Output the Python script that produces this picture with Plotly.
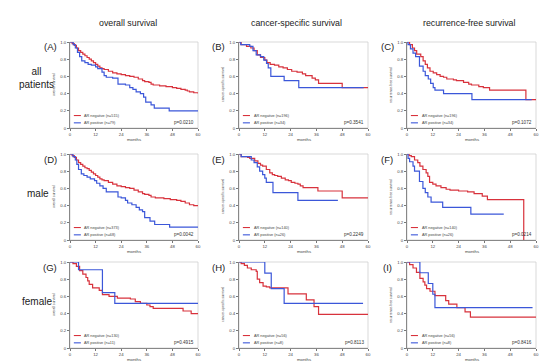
import plotly.graph_objects as go

W, H = 550, 361

# ---------------- data (months, survival) ----------------
A_neg_t = [0,1,2,3,4,5,6,7,8,9,10,11,12,13,14,15,16,18,20,22,24,26,28,30,32,34,35,37,38,39,42,45,48,50,52,54,55,56,58,60]
A_neg_s = [1.0,0.98,0.96,0.93,0.90,0.88,0.86,0.84,0.82,0.80,0.78,0.76,0.74,0.72,0.70,0.69,0.68,0.66,0.64,0.63,0.62,0.61,0.60,0.59,0.57,0.55,0.54,0.53,0.51,0.50,0.49,0.48,0.47,0.46,0.45,0.44,0.43,0.42,0.41,0.40]
A_pos_t = [0,1.5,2.5,3.5,4.5,5.5,7,8.5,10,12,13,15,16,17,20,22.5,26,28,29.5,31,33,34.5,35.5,38,39.5,46.5,60]
A_pos_s = [1.0,0.97,0.93,0.88,0.83,0.78,0.76,0.74,0.73,0.71,0.69,0.65,0.61,0.59,0.58,0.51,0.50,0.47,0.45,0.42,0.40,0.36,0.30,0.27,0.23,0.20,0.20]

B_neg_t = [0,1,3.5,5.5,7,8.5,10,12,13,14.5,16.5,18.5,20.5,22.5,24.5,27,29.5,31,34,35.5,37,48,60]
B_neg_s = [1.0,0.97,0.95,0.93,0.90,0.85,0.82,0.79,0.76,0.74,0.73,0.71,0.70,0.68,0.66,0.65,0.63,0.61,0.58,0.56,0.52,0.47,0.47]
B_pos_t = [0,0.8,5,6.5,8,10,11.5,12.8,13.6,14.8,21,27.8,58]
B_pos_s = [1.0,0.97,0.95,0.90,0.85,0.83,0.79,0.75,0.70,0.60,0.55,0.47,0.47]

C_neg_t = [0,1.2,2.5,3.5,4.5,6.4,7.5,8.5,9.5,10.7,12.2,13.8,15.4,17,18.5,21.6,23,26.3,28.7,30,33.4,35.5,38.4,55.3,60]
C_neg_s = [1.0,0.97,0.93,0.90,0.86,0.83,0.78,0.74,0.70,0.66,0.64,0.62,0.60,0.59,0.57,0.56,0.55,0.53,0.51,0.50,0.48,0.47,0.44,0.33,0.33]
C_pos_t = [0,0.5,1.6,2.8,4,5.8,7.5,8.5,9.9,11,12.2,13,17,30.2,58]
C_pos_s = [1.0,0.97,0.92,0.87,0.83,0.72,0.66,0.61,0.57,0.52,0.47,0.44,0.40,0.33,0.33]

D_neg_t = [0,1,2,3,4,5,6,7,8,9,10,11,12,13,14,15,16,18,20,22,24,26,28,30,32,34,35,37,38,40,44,47,50,52,54,56,58,60]
D_neg_s = [1.0,0.98,0.96,0.93,0.90,0.88,0.86,0.84,0.83,0.81,0.79,0.77,0.75,0.73,0.71,0.70,0.69,0.67,0.65,0.63,0.62,0.61,0.60,0.58,0.56,0.54,0.53,0.52,0.50,0.49,0.48,0.47,0.46,0.45,0.43,0.41,0.40,0.40]
D_pos_t = [0,1.4,2.5,3.2,4,5.3,6.5,8,9.5,11.5,12.5,14,15.5,17,22.5,24,26,27,29,31,32.5,34,35,37.5,39.7,46.7,60]
D_pos_s = [1.0,0.97,0.93,0.88,0.82,0.77,0.75,0.73,0.71,0.69,0.66,0.63,0.60,0.56,0.50,0.49,0.46,0.43,0.41,0.38,0.35,0.33,0.26,0.22,0.18,0.15,0.15]

E_neg_t = [0,1,4,5,7.3,8.8,10,11,12.7,14.3,15.5,16.6,18,19.7,21.5,23,24.3,26,27.4,28.5,29.8,36.7,48,60]
E_neg_s = [1.0,0.97,0.96,0.95,0.92,0.89,0.87,0.86,0.82,0.78,0.76,0.75,0.74,0.72,0.70,0.69,0.67,0.66,0.65,0.63,0.61,0.57,0.49,0.49]
E_pos_t = [0,1,5.7,7,8.5,9.6,11,12,12.7,15.8,27.4,46]
E_pos_s = [1.0,0.97,0.93,0.90,0.85,0.80,0.76,0.72,0.67,0.55,0.46,0.46]

F_neg_t = [0,1,2,3.5,5,6,7.4,8.9,9.7,10.5,12,13.5,15.8,18.2,20,24,28.2,31.2,35,37.4,54.3]
F_neg_s = [1.0,0.98,0.97,0.93,0.90,0.86,0.82,0.78,0.74,0.67,0.65,0.63,0.61,0.59,0.58,0.57,0.56,0.54,0.51,0.47,0.0]
F_pos_t = [0,0.5,1.2,2.8,3.5,5.8,7.4,8.5,9.7,11.2,16.6,29.7,45]
F_pos_s = [1.0,0.95,0.91,0.86,0.80,0.68,0.60,0.55,0.50,0.44,0.38,0.30,0.30]

G_neg_t = [0,1.4,3,4.5,6,7.5,8.3,9,10.6,13.7,15.2,18.3,22.2,28.3,30.6,33,36,37.5,39,53,56.8,60]
G_neg_s = [1.0,0.98,0.95,0.90,0.86,0.82,0.78,0.74,0.70,0.67,0.62,0.60,0.58,0.57,0.54,0.52,0.50,0.48,0.46,0.43,0.40,0.40]
G_pos_t = [0,4,15.2,21,60]
G_pos_s = [1.0,0.91,0.645,0.52,0.52]

H_neg_t = [0,1,2.5,3.9,5.7,8,8.5,9.6,11.2,12.7,14.3,22.8,31.3,34.9,37,60]
H_neg_s = [1.0,0.98,0.96,0.93,0.91,0.89,0.80,0.76,0.72,0.71,0.70,0.63,0.56,0.48,0.39,0.39]
H_pos_t = [0,12,15,21,57.7]
H_pos_s = [1.0,0.87,0.69,0.52,0.52]

I_neg_t = [0,1.2,2.8,4.4,6,7.5,8.3,9.1,10.7,13,18,19.4,23.2,27,29.5,60]
I_neg_s = [1.0,0.97,0.93,0.88,0.81,0.77,0.73,0.69,0.66,0.61,0.55,0.51,0.47,0.42,0.36,0.36]
I_pos_t = [0,6,9.9,12,13,58.4]
I_pos_s = [1.0,0.875,0.75,0.625,0.47,0.47]

panel_letters = ["A", "B", "C", "D", "E", "F", "G", "H", "I"]
neg_n = [515, 196, 196, 373, 140, 140, 130, 56, 56]
pos_n = [79, 34, 34, 68, 26, 26, 11, 8, 8]
p_values = ["p=0.0210", "p=0.3541", "p=0.1072", "p=0.0042", "p=0.2249", "p=0.0214",
            "p=0.4915", "p=0.8113", "p=0.8416"]
col_titles = ["overall survival", "cancer-specific survival", "recurrence-free survival"]
row_titles = ["all<br>patients", "male", "female"]
y_titles = ["overall survival", "cancer-specific survival", "recurrence-free survival"]
x_ticks = [0, 12, 24, 36, 48, 60]
y_ticks = [0, 0.2, 0.4, 0.6, 0.8, 1.0]
y_ticktext = ["0", "0.2", "0.4", "0.6", "0.8", "1.0"]

series = {
    "A": (A_neg_t, A_neg_s, A_pos_t, A_pos_s), "B": (B_neg_t, B_neg_s, B_pos_t, B_pos_s),
    "C": (C_neg_t, C_neg_s, C_pos_t, C_pos_s), "D": (D_neg_t, D_neg_s, D_pos_t, D_pos_s),
    "E": (E_neg_t, E_neg_s, E_pos_t, E_pos_s), "F": (F_neg_t, F_neg_s, F_pos_t, F_pos_s),
    "G": (G_neg_t, G_neg_s, G_pos_t, G_pos_s), "H": (H_neg_t, H_neg_s, H_pos_t, H_pos_s),
    "I": (I_neg_t, I_neg_s, I_pos_t, I_pos_s),
}

RED = "#d8323c"
BLUE = "#3b57d9"
FONT = "Liberation Sans"

# ---------------- layout geometry (pixels) ----------------
col_x = [(62, 190), (231, 360), (399, 528)]
row_y = [(34, 120), (146, 232), (254, 340)]
col_title_x = [120, 288, 461]

def px(x):
    return x / W

def py(y):
    return 1 - y / H

fig = go.Figure()
layout = dict(
    width=W, height=H, margin=dict(l=0, r=0, t=0, b=0),
    paper_bgcolor="white", plot_bgcolor="white", showlegend=False,
    font=dict(family=FONT, color="#333"),
)
annotations = []
shapes = []

for i, letter in enumerate(panel_letters):
    r, c = divmod(i, 3)
    k = i + 1
    xa = "x" if k == 1 else f"x{k}"
    ya = "y" if k == 1 else f"y{k}"
    xkey = "xaxis" if k == 1 else f"xaxis{k}"
    ykey = "yaxis" if k == 1 else f"yaxis{k}"
    x0, x1 = col_x[c]
    y0, y1 = row_y[r]
    layout[xkey] = dict(
        domain=[px(x0), px(x1)], range=[0, 60], anchor=ya,
        tickvals=x_ticks, ticks="outside", ticklen=2, tickwidth=0.6, tickcolor="#777",
        tickfont=dict(size=4.3, family=FONT, color="#444"),
        showline=True, linecolor="#888", linewidth=0.8, showgrid=False, zeroline=False,
        automargin=False,
    )
    layout[ykey] = dict(
        domain=[py(y1), py(y0)], range=[0, 1.0], anchor=xa,
        tickvals=y_ticks, ticktext=y_ticktext, ticks="outside", ticklen=2, tickwidth=0.6,
        tickcolor="#777", tickfont=dict(size=4.3, family=FONT, color="#444"),
        showline=True, linecolor="#888", linewidth=0.8, showgrid=False, zeroline=False,
        automargin=False,
    )
    nt, ns, pt, ps = series[letter]
    fig.add_trace(go.Scatter(x=nt, y=ns, mode="lines", line=dict(color=RED, width=1.2, shape="hv"),
                             xaxis=xa, yaxis=ya, cliponaxis=False))
    fig.add_trace(go.Scatter(x=pt, y=ps, mode="lines", line=dict(color=BLUE, width=1.2, shape="hv"),
                             xaxis=xa, yaxis=ya, cliponaxis=False))
    # frame
    shapes.append(dict(type="rect", xref=f"{xa} domain", yref=f"{ya} domain", x0=0, x1=1, y0=0, y1=1,
                       line=dict(color="#cfcfcf", width=0.8), layer="below"))
    # axis titles
    annotations.append(dict(xref="paper", yref="paper", x=px((x0 + x1) / 2), y=py(y1 + 11),
                            text="months", showarrow=False, xanchor="center", yanchor="middle",
                            font=dict(size=4.3, family=FONT, color="#444")))
    annotations.append(dict(xref="paper", yref="paper", x=px(x0 - 16), y=py((y0 + y1) / 2),
                            text=y_titles[c], showarrow=False, textangle=-90,
                            xanchor="center", yanchor="middle",
                            font=dict(size=3.4, family=FONT, color="#444")))
    # legend samples
    for yy, col, txt in [(0.145, RED, f"AR negative (n={neg_n[i]})"),
                         (0.06, BLUE, f"AR positive (n={pos_n[i]})")]:
        shapes.append(dict(type="line", xref=f"{xa} domain", yref=f"{ya} domain",
                           x0=0.03, x1=0.085, y0=yy, y1=yy, line=dict(color=col, width=1.1)))
        annotations.append(dict(xref=f"{xa} domain", yref=f"{ya} domain", x=0.097, y=yy,
                                text=txt, showarrow=False, xanchor="left", yanchor="middle",
                                font=dict(size=3.8, family=FONT, color="#444")))
    annotations.append(dict(xref=f"{xa} domain", yref=f"{ya} domain", x=0.985, y=0.06,
                            text=p_values[i], showarrow=False, xanchor="right", yanchor="middle",
                            font=dict(size=4.6, family=FONT, color="#333")))
    # panel letter
    annotations.append(dict(xref="paper", yref="paper", x=px(x0 - 20), y=py(y0 + 5),
                            text=f"({letter})", showarrow=False, xanchor="center", yanchor="middle",
                            font=dict(size=9.5, family=FONT, color="#222")))

# column titles
for c, t in enumerate(col_titles):
    annotations.append(dict(xref="paper", yref="paper", x=px(col_title_x[c]), y=py(15),
                            text=t, showarrow=False, xanchor="center", yanchor="middle",
                            font=dict(size=8.8, family=FONT, color="#222")))
# row titles
row_centers = [(28, 70), (30, 185), (29, 293)]
for r, t in enumerate(row_titles):
    xc, yc = row_centers[r]
    annotations.append(dict(xref="paper", yref="paper", x=px(xc), y=py(yc),
                            text=t, showarrow=False, xanchor="center", yanchor="middle",
                            align="center",
                            font=dict(size=10, family=FONT, color="#222")))

layout["annotations"] = annotations
layout["shapes"] = shapes
fig.update_layout(**layout)
fig.write_html("out.html")
